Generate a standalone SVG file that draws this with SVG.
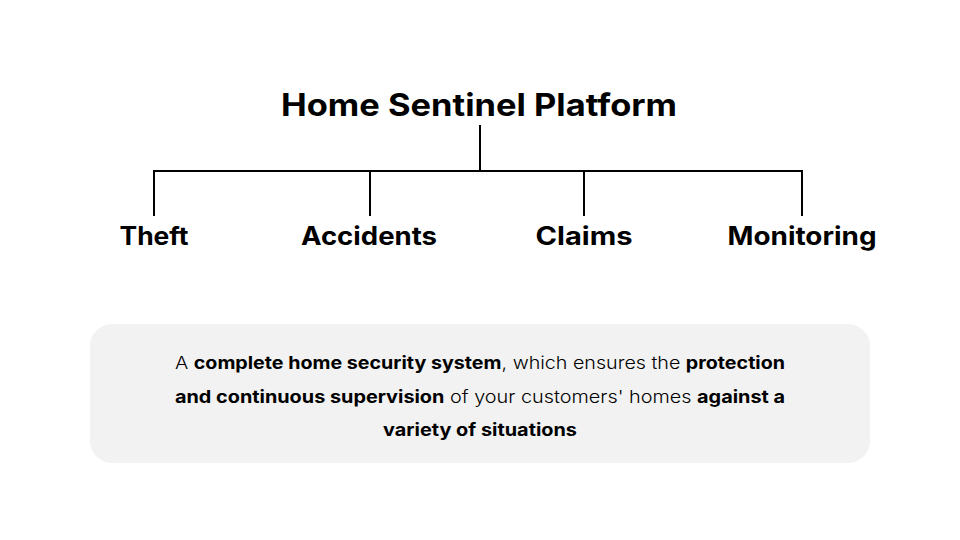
<svg xmlns="http://www.w3.org/2000/svg" width="960" height="540" viewBox="0 0 960 540">
<style>
.t{font-family:"Inter","Noto Sans","Liberation Sans",sans-serif;fill:#000;text-anchor:middle}
.title{font-size:31px;font-weight:700}
.lbl{font-size:25px;font-weight:700}
.body{font-size:17.5px;font-weight:300}
.b{font-weight:700}
.conn{stroke:#000;stroke-width:2;fill:none}
</style>
<rect width="960" height="540" fill="#fff"/>
<g id="root"><text class="t title" x="479" y="116" textLength="396" lengthAdjust="spacingAndGlyphs">Home Sentinel Platform</text></g>
<g id="connectors">
<path class="conn" d="M480 125V171M154 171H802M154 170V216M370 170V216M584 170V216M802 170V216"/>
</g>
<g id="theft"><text class="t lbl" x="154" y="245" textLength="69" lengthAdjust="spacingAndGlyphs">Theft</text></g>
<g id="accidents"><text class="t lbl" x="369" y="245" textLength="136" lengthAdjust="spacingAndGlyphs">Accidents</text></g>
<g id="claims"><text class="t lbl" x="584" y="245" textLength="97" lengthAdjust="spacingAndGlyphs">Claims</text></g>
<g id="monitoring"><text class="t lbl" x="802" y="245" textLength="149" lengthAdjust="spacingAndGlyphs">Monitoring</text></g>
<g id="description">
<rect x="90" y="324" width="780" height="139" rx="22" fill="#f2f2f2"/>
<text class="t body" x="480" y="369" textLength="610" lengthAdjust="spacingAndGlyphs">A <tspan class="b">complete home security system</tspan>, which ensures the <tspan class="b">protection</tspan></text>
<text class="t body" x="480" y="403" textLength="610" lengthAdjust="spacingAndGlyphs"><tspan class="b">and continuous supervision</tspan> of your customers' homes <tspan class="b">against a</tspan></text>
<text class="t body" x="480" y="436" textLength="194" lengthAdjust="spacingAndGlyphs"><tspan class="b">variety of situations</tspan></text>
</g>
</svg>
